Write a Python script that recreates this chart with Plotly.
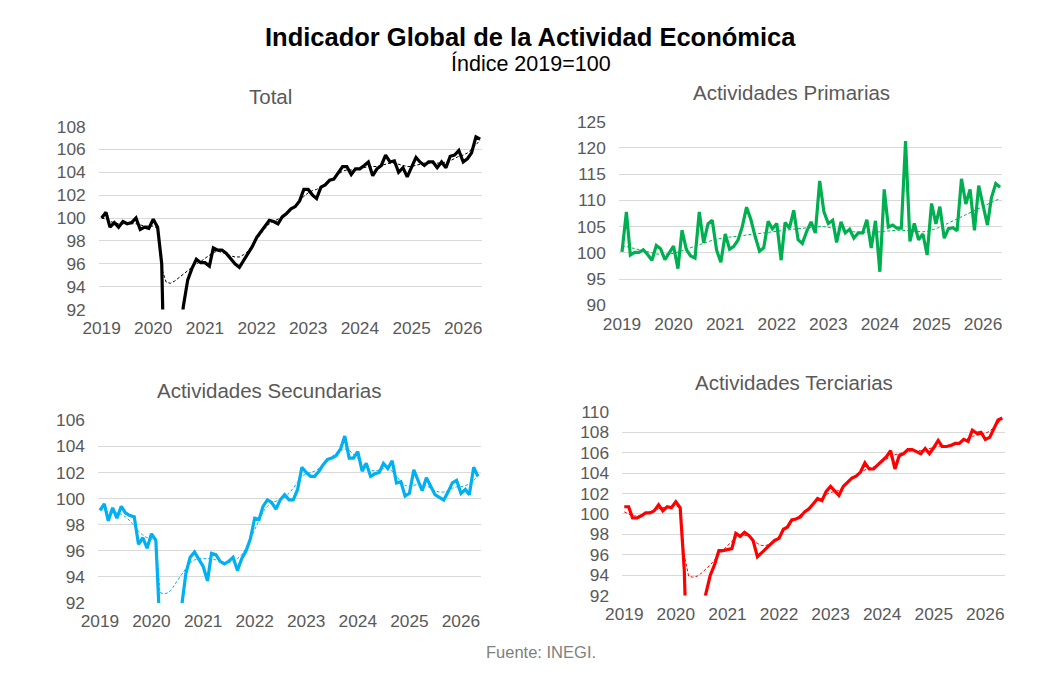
import pandas as pd
import plotly.graph_objects as go

dates = pd.date_range("2019-01-01", periods=89, freq="MS")
years = [str(y) for y in range(2019, 2027)]

total = [100.0, 100.5, 99.2, 99.6, 99.2, 99.7, 99.5, 99.6, 100.0, 99.0, 99.2, 99.1,
         99.9, 99.2, 96.0, 78.5, 79.5, 85.5, 88.5, 92.3, 94.6, 95.6, 96.4, 96.1,
         96.1, 95.8, 97.4, 97.2, 97.2, 96.9, 96.5, 96.0, 95.7, 96.3, 96.9, 97.5,
         98.3, 98.8, 99.2, 99.8, 99.7, 99.5, 100.1, 100.4, 100.8, 101.0, 101.5, 102.5,
         102.5, 102.0, 101.7, 102.7, 102.9, 103.3, 103.4, 103.9, 104.5, 104.5, 103.8, 104.3,
         104.3, 104.6, 104.9, 103.7, 104.3, 104.6, 105.5, 104.9, 105.0, 104.0, 104.4, 103.6,
         104.4, 105.3, 104.9, 104.6, 104.9, 104.9, 104.4, 104.9, 104.4, 105.4, 105.5, 105.9,
         104.9, 105.2, 105.7, 107.1, 106.9]
total_trend = [100.0, 99.9, 99.7, 99.6, 99.5, 99.5, 99.5, 99.5, 99.5, 99.4, 99.3, 99.3,
               99.3, 99.1, 95.6, 94.4, 94.3, 94.5, 94.8, 95.1, 95.4, 95.7, 96.0, 96.2,
               96.5, 96.8, 97.0, 97.1, 97.0, 96.9, 96.7, 96.6, 96.6, 96.8, 97.1, 97.6,
               98.1, 98.6, 99.1, 99.5, 99.7, 99.9, 100.1, 100.4, 100.7, 101.1, 101.5, 101.9,
               102.2, 102.4, 102.5, 102.7, 102.9, 103.2, 103.5, 103.8, 104.1, 104.2, 104.2, 104.2,
               104.3, 104.4, 104.5, 104.5, 104.5, 104.6, 104.7, 104.8, 104.8, 104.7, 104.6, 104.5,
               104.5, 104.6, 104.7, 104.8, 104.8, 104.8, 104.8, 104.8, 104.9, 105.0, 105.2, 105.4,
               105.5, 105.7, 106.0, 106.4, 106.8]

primarias = [100.2, 107.8, 99.6, 100.1, 100.1, 100.6, 99.7, 98.6, 101.4, 100.8, 98.7, 100.0,
             101.3, 97.0, 104.3, 100.6, 99.4, 99.0, 107.8, 101.9, 105.5, 106.2, 100.5, 98.2,
             103.6, 100.7, 101.2, 102.4, 104.9, 108.7, 106.4, 103.1, 100.3, 101.0, 106.0, 104.6,
             105.6, 98.6, 105.8, 104.7, 108.1, 102.5, 101.8, 104.1, 105.9, 103.8, 113.7, 107.8,
             105.6, 106.2, 102.0, 105.9, 103.8, 104.5, 102.8, 103.8, 103.8, 106.3, 100.9, 106.1,
             96.4, 112.1, 104.9, 105.3, 104.7, 104.7, 121.3, 102.2, 105.6, 102.5, 103.6, 99.6,
             109.4, 105.5, 108.8, 102.8, 104.6, 104.8, 104.2, 114.1, 109.3, 112.1, 104.3, 112.8,
             109.0, 105.3, 110.5, 113.2, 112.5]
primarias_trend = [101.4, 101.2, 101.0, 100.8, 100.5, 100.3, 100.1, 99.9, 99.8, 99.7, 99.7, 99.8,
                   99.9, 100.1, 100.4, 100.7, 101.0, 101.3, 101.6, 101.9, 102.2, 102.4, 102.6, 102.8,
                   102.9, 103.0, 103.1, 103.2, 103.3, 103.4, 103.5, 103.6, 103.7, 103.8, 103.9, 104.0,
                   104.1, 104.2, 104.3, 104.4, 104.5, 104.6, 104.7, 104.8, 104.9, 105.0, 105.0, 105.0,
                   104.9, 104.8, 104.6, 104.4, 104.2, 104.1, 104.0, 103.9, 103.9, 103.9, 103.9, 104.0,
                   104.0, 104.1, 104.2, 104.3, 104.3, 104.3, 104.3, 104.2, 104.1, 104.0, 104.0, 104.1,
                   104.3, 104.6, 104.9, 105.3, 105.7, 106.1, 106.5, 106.9, 107.3, 107.7, 108.1, 108.5,
                   108.9, 109.3, 109.7, 110.0, 110.3]

secundarias = [99.1, 99.6, 98.3, 99.3, 98.5, 99.4, 98.9, 98.7, 98.6, 96.5, 97.0, 96.2,
               97.3, 96.8, 90.0, 72.0, 74.0, 84.0, 88.0, 91.7, 94.3, 95.5, 95.9, 95.4,
               94.8, 93.7, 95.8, 95.7, 95.2, 95.0, 95.2, 95.5, 94.5, 95.4, 96.0, 96.9,
               98.5, 98.4, 99.4, 99.9, 99.7, 99.2, 99.9, 100.3, 99.9, 99.9, 100.7, 102.4,
               102.0, 101.7, 101.7, 102.1, 102.6, 103.0, 103.1, 103.3, 103.8, 104.8, 103.1, 103.1,
               103.6, 102.1, 102.7, 101.7, 101.9, 102.0, 102.7, 102.3, 102.9, 101.2, 101.3, 100.2,
               100.4, 102.2, 101.5, 100.6, 101.6, 101.0, 100.3, 100.1, 99.9, 100.5, 101.2, 101.4,
               100.4, 100.7, 100.3, 102.4, 101.7]
secundarias_trend = [99.2, 99.1, 99.0, 98.9, 98.9, 98.8, 98.6, 98.3, 97.9, 97.5, 97.2, 97.0,
                     96.9, 96.9, 92.8, 92.7, 92.8, 93.2, 93.7, 94.2, 94.7, 95.1, 95.3, 95.4,
                     95.4, 95.4, 95.4, 95.3, 95.2, 95.1, 95.1, 95.2, 95.4, 95.7, 96.2, 96.9,
                     97.7, 98.4, 99.0, 99.4, 99.7, 99.8, 99.9, 100.1, 100.4, 100.8, 101.3, 101.7,
                     101.9, 102.0, 102.1, 102.3, 102.6, 102.9, 103.2, 103.5, 103.7, 103.8, 103.7, 103.4,
                     103.1, 102.7, 102.4, 102.2, 102.1, 102.2, 102.3, 102.3, 102.1, 101.7, 101.3, 101.0,
                     100.9, 101.0, 101.1, 101.1, 101.0, 100.8, 100.6, 100.5, 100.5, 100.6, 100.8, 100.9,
                     100.9, 101.0, 101.1, 101.4, 101.7]

terciarias = [100.7, 100.7, 99.6, 99.6, 99.8, 100.1, 100.1, 100.3, 100.9, 100.3, 100.7, 100.6,
              101.2, 100.6, 94.5, 80.0, 82.0, 87.0, 90.2, 92.2, 94.0, 95.0, 96.4, 96.4,
              96.5, 96.6, 98.1, 97.8, 98.2, 97.9, 97.4, 95.8, 96.2, 96.6, 97.1, 97.4,
              97.6, 98.5, 98.7, 99.4, 99.5, 99.7, 100.2, 100.5, 101.0, 101.5, 101.3, 102.2,
              102.7, 102.2, 101.8, 102.7, 103.1, 103.5, 103.7, 104.1, 105.0, 104.4, 104.4, 104.8,
              105.2, 105.6, 106.2, 104.4, 105.7, 105.9, 106.3, 106.3, 106.1, 105.9, 106.4, 105.9,
              106.5, 107.2, 106.6, 106.6, 106.7, 106.9, 106.9, 107.3, 107.1, 108.2, 107.9, 108.0,
              107.3, 107.5, 108.3, 109.2, 109.4]
terciarias_trend = [100.2, 100.0, 99.8, 99.8, 99.9, 100.0, 100.2, 100.3, 100.5, 100.6, 100.7, 100.8,
                    100.8, 100.6, 96.0, 93.9, 93.8, 93.9, 94.2, 94.6, 95.0, 95.5, 96.0, 96.5,
                    96.9, 97.3, 97.7, 97.9, 97.9, 97.8, 97.5, 97.1, 96.9, 96.9, 97.1, 97.4,
                    97.8, 98.3, 98.8, 99.2, 99.6, 99.9, 100.2, 100.5, 100.9, 101.3, 101.6, 101.9,
                    102.1, 102.2, 102.3, 102.6, 103.0, 103.4, 103.8, 104.1, 104.3, 104.5, 104.6, 104.8,
                    105.1, 105.4, 105.6, 105.8, 105.9, 106.0, 106.1, 106.2, 106.2, 106.2, 106.3, 106.4,
                    106.5, 106.6, 106.7, 106.7, 106.8, 106.9, 107.0, 107.2, 107.4, 107.6, 107.7, 107.8,
                    107.9, 108.1, 108.5, 108.9, 109.3]

W, H = 1046, 680
FONT = "Liberation Sans, Arial, sans-serif"
GRAY = "#595959"

panels = [
    ("Total", total, total_trend, "#000000", (83, 473), (120, 308.7), (92, 108), 2,
     ("2018-12-11", "2026-05-16"), (258, 89)),
    ("Actividades Primarias", primarias, primarias_trend, "#00B050", (611.7, 1001.7), (115, 304.3), (90, 125), 5,
     ("2018-12-09", "2026-05-18"), (787, 85)),
    ("Actividades Secundarias", secundarias, secundarias_trend, "#00B0F0", (82.3, 471.7), (422.7, 611), (92, 106), 2,
     ("2018-12-18", "2026-05-23"), (257, 392)),
    ("Actividades Terciarias", terciarias, terciarias_trend, "#FF0000", (615, 1004), (414, 603.3), (92, 110), 2,
     ("2018-12-16", "2026-05-18"), (790, 384)),
]

fig = go.Figure()
annotations = []
for k, (name, ser, trd, col, xpx, ypx, yr, dt, xr, tpos) in enumerate(panels, start=1):
    sfx = "" if k == 1 else str(k)
    fig.add_trace(go.Scatter(x=dates, y=trd, mode="lines", xaxis="x" + sfx, yaxis="y" + sfx,
                             line=dict(color=col, width=1, dash="3px,2px"), hoverinfo="skip"))
    fig.add_trace(go.Scatter(x=dates, y=ser, mode="lines", xaxis="x" + sfx, yaxis="y" + sfx,
                             line=dict(color=col, width=3.2), name=name))
    fig.layout["xaxis" + sfx] = dict(
        domain=[xpx[0] / W, xpx[1] / W], anchor="y" + sfx, type="date",
        range=list(xr), tickvals=[f"{y}-01-01" for y in years], ticktext=years,
        showgrid=False, zeroline=False, showline=False, ticks="",
        tickfont=dict(family=FONT, size=17.3, color=GRAY), ticklabelstandoff=6,
        fixedrange=True)
    fig.layout["yaxis" + sfx] = dict(
        domain=[1 - ypx[1] / H, 1 - ypx[0] / H], anchor="x" + sfx,
        range=list(yr), dtick=dt, tick0=0, showgrid=True, gridcolor="#D9D9D9", gridwidth=1,
        zeroline=False, showline=False, ticks="",
        tickfont=dict(family=FONT, size=17.3, color=GRAY), ticklabelstandoff=12,
        fixedrange=True)
    annotations.append(dict(text=name, x=tpos[0] / W, y=1 - tpos[1] / H, xref="paper", yref="paper",
                            xanchor="center", yanchor="middle", showarrow=False,
                            font=dict(family=FONT, size=20.5, color=GRAY)))

annotations += [
    dict(text="<b>Indicador Global de la Actividad Económica</b>", x=522 / W, y=1 - 28 / H,
         xref="paper", yref="paper", xanchor="center", yanchor="middle", showarrow=False,
         font=dict(family=FONT, size=25.5, color="#000000")),
    dict(text="Índice 2019=100", x=522 / W, y=1 - 55 / H,
         xref="paper", yref="paper", xanchor="center", yanchor="middle", showarrow=False,
         font=dict(family=FONT, size=21.5, color="#000000")),
    dict(text="Fuente: INEGI.", x=533 / W, y=1 - 661 / H,
         xref="paper", yref="paper", xanchor="center", yanchor="middle", showarrow=False,
         font=dict(family=FONT, size=16.5, color="#808080")),
]

fig.update_layout(width=W, height=H, margin=dict(l=0, r=0, t=0, b=0),
                  paper_bgcolor="white", plot_bgcolor="white", showlegend=False,
                  annotations=annotations, font=dict(family=FONT))
fig.write_html("out.html", config={"displayModeBar": False})
